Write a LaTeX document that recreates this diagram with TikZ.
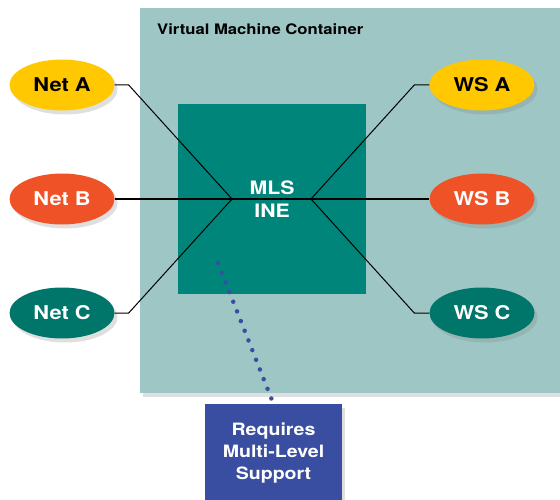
\documentclass[tikz,border=0pt]{standalone}
\usepackage{fontspec}
\setmainfont{TeX Gyre Heros}[FakeStretch=1.15]
\usepackage{xcolor}
\usepackage{tikz}
\usetikzlibrary{shapes,positioning,shadows}
\definecolor{vmteal}{RGB}{157,198,196}
\definecolor{coreteal}{RGB}{0,133,122}
\definecolor{netyellow}{RGB}{255,200,0}
\definecolor{netorange}{RGB}{240,82,39}
\definecolor{netteal}{RGB}{0,118,106}
\definecolor{reqblue}{RGB}{57,78,160}

\begin{document}
\begin{tikzpicture}[
    x=1pt, y=-1pt,
    shade/.style={drop shadow={shadow xshift=3pt, shadow yshift=-4pt, opacity=0.25}},
    blob/.style={ellipse, shade, minimum width=105pt, minimum height=51pt, inner sep=0pt, font=\bfseries\fontsize{19}{22}\selectfont},
    link/.style={line width=1pt},
    dots/.style={draw=reqblue, line width=4.5pt, line cap=round, dash pattern=on 0pt off 10.4pt}
]
    \useasboundingbox (0,0) rectangle (560,500);

    % Container and core
    \node[shade, fill=vmteal, minimum width=420pt, minimum height=385pt, anchor=north west, inner sep=0pt] (container) at (140,8) {};
    \node[anchor=base west, inner sep=0pt, font=\bfseries\fontsize{14.5}{17}\selectfont] (title) at (157,35) {Virtual Machine Container};
    \node[fill=coreteal, minimum width=188pt, minimum height=190pt, anchor=north west, inner sep=0pt,
          text=white, align=center, font=\bfseries\fontsize{18.5}{23}\selectfont] (core) at (178,104) {MLS\\INE};

    % Networks and workstations
    \node[blob, fill=netyellow] (neta) at (62,85) {Net A};
    \node[blob, fill=netorange, text=white] (netb) at (62,199) {Net B};
    \node[blob, fill=netteal, text=white] (netc) at (62,313) {Net C};
    \node[blob, fill=netyellow] (wsa) at (482,85) {WS A};
    \node[blob, fill=netorange, text=white] (wsb) at (482,199) {WS B};
    \node[blob, fill=netteal, text=white] (wsc) at (482,313) {WS C};

    % Note
    \node[shade, fill=reqblue, text=white, anchor=north, minimum width=137pt, minimum height=97pt, align=center,
          font=\bfseries\fontsize{17}{22}\selectfont] (req) at (273.5,404) {Requires\\Multi-Level\\Support};

    % Lines
    \coordinate (jl) at (232,199);
    \coordinate (jr) at (311,199);
    \coordinate (tap) at (218,263);
    \draw[link] (neta.east) -- ++(14,0) -- (jl);
    \draw[link] (netc.east) -- ++(14,0) -- (jl);
    \draw[link, line width=1.8pt] (netb.east) -- (wsb.west);
    \draw[link] (wsa.west) -- ++(-15,0) -- (jr);
    \draw[link] (wsc.west) -- ++(-15,0) -- (jr);
    \draw[dots] (tap) -- (req.north);

\end{tikzpicture}
\end{document}
